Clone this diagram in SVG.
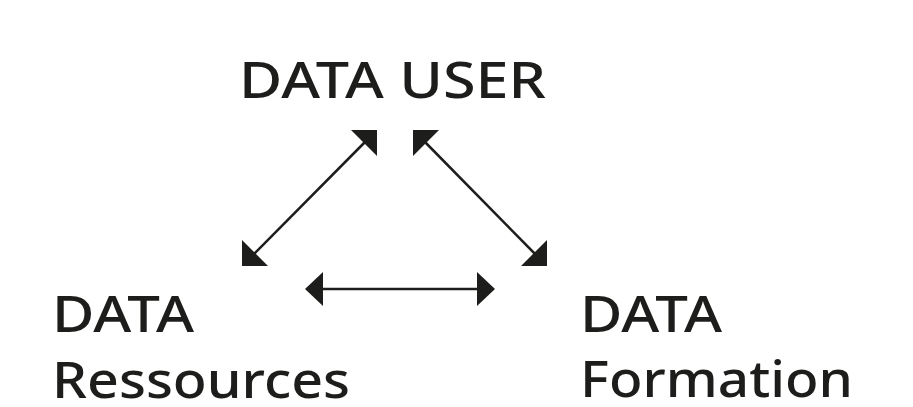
<svg xmlns="http://www.w3.org/2000/svg" width="913" height="407" viewBox="0 0 913 407">
<style>
.t{font-family:"Noto Sans","Open Sans",sans-serif;font-size:50px;font-weight:500;fill:#1d1d1b}
.c line{stroke:#1d1d1b;stroke-width:2.5}
.c polygon{fill:#1d1d1b}
</style>
<rect width="913" height="407" fill="#fff"/>
<g id="user"><text class="t" x="239" y="98" textLength="307" lengthAdjust="spacingAndGlyphs">DATA USER</text></g>
<g id="ressources">
<text class="t" x="52" y="332" textLength="142" lengthAdjust="spacingAndGlyphs">DATA</text>
<text class="t" x="52" y="398" textLength="298" lengthAdjust="spacingAndGlyphs">Ressources</text>
</g>
<g id="formation">
<text class="t" x="580" y="332" textLength="142" lengthAdjust="spacingAndGlyphs">DATA</text>
<text class="t" x="580" y="397" textLength="273" lengthAdjust="spacingAndGlyphs">Formation</text>
</g>
<g class="c" id="connectors">
<line x1="252" y1="256" x2="367" y2="140"/>
<polygon points="377,130 351,130 377,156"/>
<polygon points="242,266 242,240 268,266"/>
<line x1="423" y1="140" x2="537" y2="256"/>
<polygon points="413,130 439,130 413,156"/>
<polygon points="547,266 547,240 521,266"/>
<line x1="318" y1="289" x2="482" y2="289"/>
<polygon points="305,289 323,272 323,306"/>
<polygon points="495,289 477,272 477,306"/>
</g>
</svg>
